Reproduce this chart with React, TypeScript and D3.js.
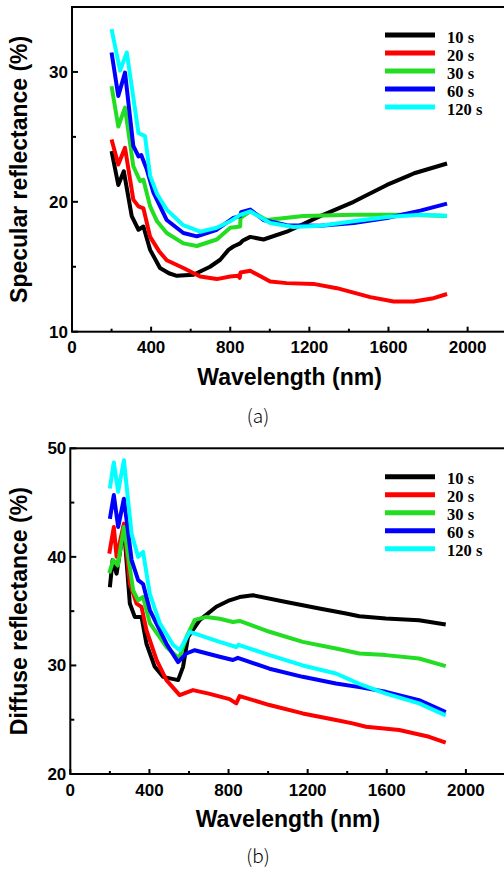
import React from "react";
import * as d3 from "d3";

// wavelength (nm), reflectance (%)
const specular10 = [[200,23.9],[234,21.3],[262,22.35],[302,18.9],[336,17.85],[361,18.1],[395,16.3],[445,14.9],[490,14.5],[530,14.3],[614,14.38],[698,15.0],[749,15.54],[791,16.3],[816,16.56],[850,16.8],[862,17.0],[901,17.3],[968,17.1],[1086,17.7],[1255,18.9],[1424,20.0],[1592,21.3],[1700,22.0],[1730,22.2],[1896,22.95]];
const specular20 = [[200,24.8],[234,22.87],[268,24.16],[310,20.17],[336,19.65],[361,19.5],[395,17.3],[440,16.2],[479,15.5],[563,14.9],[648,14.25],[732,14.05],[800,14.25],[840,14.3],[848,14.15],[852,14.56],[901,14.69],[1002,13.86],[1086,13.74],[1221,13.68],[1339,13.35],[1508,12.66],[1626,12.32],[1727,12.32],[1820,12.55],[1896,12.9]];
const specular30 = [[200,28.9],[234,25.8],[268,27.25],[310,22.74],[344,21.6],[361,21.7],[395,19.65],[430,18.5],[479,17.6],[563,16.8],[631,16.6],[732,17.1],[800,18.0],[850,18.1],[852,18.76],[901,19.27],[985,18.6],[1169,18.9],[1422,19.0],[1700,19.0],[1896,18.9]];
const specular60 = [[200,31.5],[234,28.15],[268,29.95],[310,24.3],[336,23.5],[350,23.6],[378,22.5],[412,20.7],[479,18.6],[563,17.6],[631,17.34],[732,17.85],[816,18.76],[850,18.9],[855,19.2],[901,19.4],[968,18.6],[1086,18.2],[1255,18.16],[1424,18.37],[1592,18.76],[1761,19.32],[1896,19.86]];
const specular120 = [[200,33.3],[243,30.1],[277,31.5],[336,25.3],[369,25.06],[395,22.0],[430,20.6],[479,19.4],[562,18.2],[648,17.7],[732,18.0],[800,18.5],[850,19.0],[901,19.27],[1002,18.37],[1119,18.06],[1255,18.16],[1422,18.5],[1592,18.83],[1761,19.0],[1896,18.93]];

const diffuse10 = [[200,37.2],[214,39.7],[234,38.46],[271,42.75],[301,35.7],[326,34.47],[360,34.47],[385,32.0],[427,29.87],[469,28.95],[545,28.65],[570,29.87],[595,32.6],[654,34.17],[738,35.4],[805,36.0],[856,36.3],[923,36.47],[1091,35.85],[1259,35.24],[1394,34.78],[1461,34.53],[1595,34.32],[1763,34.17],[1898,33.77]];
const diffuse20 = [[197,40.3],[220,42.75],[234,40.0],[271,43.06],[301,37.55],[335,35.7],[360,35.4],[385,33.25],[436,30.5],[486,28.65],[553,27.27],[620,27.73],[700,27.4],[805,26.9],[839,26.5],[856,27.18],[1007,26.35],[1175,25.58],[1343,24.97],[1427,24.66],[1495,24.35],[1663,24.05],[1814,23.43],[1898,22.88]];
const diffuse30 = [[197,38.5],[217,39.7],[240,39.2],[271,42.75],[318,36.9],[343,36.0],[368,36.3],[402,33.9],[486,31.7],[550,30.64],[587,32.6],[629,34.2],[688,34.47],[755,34.3],[822,34.0],[856,34.1],[1007,33.1],[1175,32.17],[1343,31.56],[1461,31.1],[1595,30.95],[1763,30.64],[1898,29.93]];
const diffuse60 = [[200,43.5],[220,45.7],[242,42.75],[271,45.36],[310,39.7],[343,37.85],[368,37.5],[402,35.1],[486,32.0],[545,30.3],[587,31.1],[629,31.4],[755,30.8],[822,30.5],[847,30.7],[1007,29.7],[1175,28.95],[1343,28.34],[1461,28.0],[1595,27.57],[1763,26.8],[1898,25.7]];
const diffuse120 = [[200,46.3],[220,48.7],[242,46.0],[271,48.9],[310,42.1],[343,40.0],[368,40.45],[402,36.6],[452,33.9],[519,31.9],[553,31.4],[604,33.1],[755,32.17],[839,31.7],[850,31.9],[1007,30.95],[1175,30.0],[1343,29.26],[1461,28.3],[1595,27.4],[1763,26.5],[1898,25.4]];

const seriesNames = ["10 s", "20 s", "30 s", "60 s", "120 s"];
const seriesColors = ["#000000", "#ff0000", "#22dd22", "#0000ff", "#00ffff"];
const xTicks = [0, 400, 800, 1200, 1600, 2000];
const xMinorTicks = [200, 600, 1000, 1400, 1800];

function Panel({ top, left, bottom, yDomain, yTicks, yMinor, yLabel, caption, captionY, legendY, series }) {
  const right = left + 2200 * 0.1978;
  const x = d3.scaleLinear().domain([0, 2200]).range([left, right]);
  const y = d3.scaleLinear().domain(yDomain).range([bottom, top]);
  const line = d3.line().x((d) => x(d[0])).y((d) => y(d[1]));
  const tickFont = { fontFamily: "Liberation Sans, Arial, sans-serif", fontWeight: "bold", fontSize: 17 };

  return (
    <g>
      {series.map((s, i) => (
        <path key={i} d={line(s)} fill="none" stroke={seriesColors[i]} strokeWidth={4} strokeLinejoin="round" />
      ))}
      {/* frame */}
      <rect x={left} y={top} width={right - left} height={bottom - top} fill="none" stroke="#000" strokeWidth={2} />
      {xTicks.map((t) => (
        <g key={"x" + t}>
          <line x1={x(t)} x2={x(t)} y1={bottom} y2={bottom - 5} stroke="#000" strokeWidth={2} />
          <text x={x(t)} y={bottom + 21.5} textAnchor="middle" style={tickFont}>{t}</text>
        </g>
      ))}
      {xMinorTicks.map((t) => (
        <line key={"xm" + t} x1={x(t)} x2={x(t)} y1={bottom} y2={bottom - 3} stroke="#000" strokeWidth={2} />
      ))}
      {yTicks.map((t) => (
        <g key={"y" + t}>
          <line x1={left} x2={left + 6} y1={y(t)} y2={y(t)} stroke="#000" strokeWidth={2} />
          <text x={left - 4} y={y(t) + 6} textAnchor="end" style={tickFont}>{t}</text>
        </g>
      ))}
      {yMinor.map((t) => (
        <line key={"ym" + t} x1={left} x2={left + 4} y1={y(t)} y2={y(t)} stroke="#000" strokeWidth={2} />
      ))}
      <text x={left + 2200 * 0.1978 / 2} y={bottom + 53} textAnchor="middle"
        style={{ ...tickFont, fontSize: 23 }}>Wavelength (nm)</text>
      <text transform={`translate(27,${(top + bottom) / 2}) rotate(-90)`} textAnchor="middle"
        style={{ ...tickFont, fontSize: 23 }}>{yLabel}</text>
      <text x={258} y={captionY} textAnchor="middle"
        style={{ fontFamily: "Noto Sans CJK KR, Noto Sans, sans-serif", fontWeight: 300, fontSize: 19 }}>{caption}</text>
      {seriesNames.map((n, i) => (
        <g key={n}>
          <line x1={385} x2={435} y1={legendY + i * 18} y2={legendY + i * 18} stroke={seriesColors[i]} strokeWidth={5} />
          <text x={447} y={legendY + i * 18 + 7.5} style={{ fontFamily: "Liberation Serif, Times New Roman, serif", fontWeight: "bold", fontSize: 16.5 }}>{n}</text>
        </g>
      ))}
    </g>
  );
}

export default function App() {
  return (
    <div style={{ position: "absolute", left: 0, top: 0 }}>
      <svg width={504} height={869} style={{ display: "block", background: "#fff" }}>
        <Panel top={7} left={72} bottom={331.7} yDomain={[10, 35]} yTicks={[10, 20, 30]} yMinor={[15, 25]}
          yLabel="Specular reflectance (%)" caption="(a)" captionY={423} legendY={35}
          series={[specular10, specular20, specular30, specular60, specular120]} />
        <Panel top={448.3} left={70.3} bottom={774} yDomain={[20, 50]} yTicks={[20, 30, 40, 50]} yMinor={[25, 35, 45]}
          yLabel="Diffuse reflectance (%)" caption="(b)" captionY={863} legendY={476.7}
          series={[diffuse10, diffuse20, diffuse30, diffuse60, diffuse120]} />
      </svg>
    </div>
  );
}
